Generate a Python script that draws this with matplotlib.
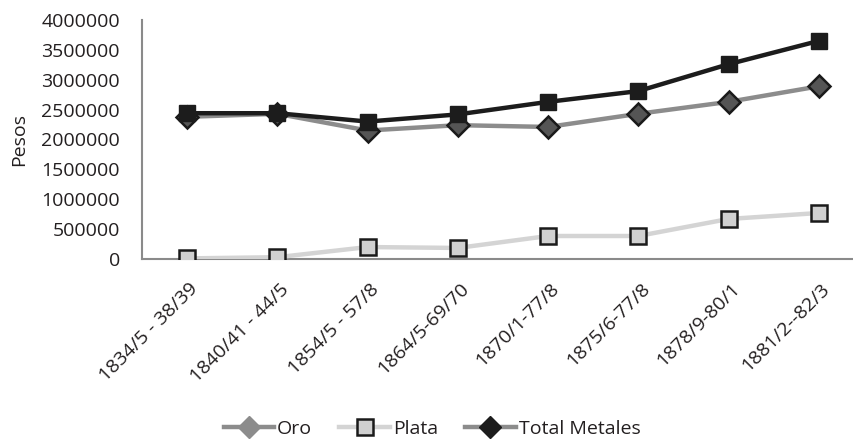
import matplotlib
matplotlib.use("Agg")
import matplotlib.pyplot as plt
from matplotlib.lines import Line2D
from matplotlib.transforms import ScaledTranslation

periodos = ["1834/5 - 38/39", "1840/41 - 44/5", "1854/5 - 57/8", "1864/5-69/70",
            "1870/1-77/8", "1875/6-77/8", "1878/9-80/1", "1881/2--82/3"]
oro = [2380000, 2430000, 2150000, 2240000, 2210000, 2430000, 2630000, 2890000]
plata = [10000, 30000, 200000, 185000, 385000, 385000, 670000, 770000]
total = [2440000, 2440000, 2300000, 2420000, 2630000, 2810000, 3260000, 3650000]

plt.rcParams["font.family"] = ["Open Sans", "DejaVu Sans"]
TXT = "#231f20"
FS = 14

fig = plt.figure(figsize=(8.54, 4.43), dpi=100)
ax = fig.add_axes([142 / 854, 1 - 259 / 443, 1 - 142 / 854, (259 - 20) / 443])

x = list(range(len(periodos)))
ax.plot(x, oro, color="#8c8c8c", lw=3.2, marker="D", ms=11,
        mfc="#555555", mec="#1a1a1a", mew=1.8, zorder=3)
ax.plot(x, plata, color="#d4d4d4", lw=3.2, marker="s", ms=11,
        mfc="#d0d0d0", mec="#1a1a1a", mew=1.8, zorder=3)
ax.plot(x, total, color="#1c1c1c", lw=3.2, marker="s", ms=12,
        mfc="#1c1c1c", mec="#1c1c1c", zorder=4)

ax.set_xlim(-0.5, 7.39)
ax.set_ylim(0, 4000000)
ax.set_yticks(range(0, 4000001, 500000))
ax.set_yticklabels([str(v) for v in range(0, 4000001, 500000)], fontsize=FS, color=TXT)
ax.set_xticks(x)
ax.set_xticklabels(periodos, rotation=45, ha="right", va="top", rotation_mode="anchor",
                   fontsize=FS, color=TXT)
ax.tick_params(length=0)
ax.tick_params(axis="y", pad=16)
ax.tick_params(axis="x", pad=0)
# push the rotated category labels down a bit below the axis
shift = ScaledTranslation(2 / 100, -21 / 100, fig.dpi_scale_trans)
for lab in ax.get_xticklabels():
    lab.set_transform(lab.get_transform() + shift)

for s in ["top", "right"]:
    ax.spines[s].set_visible(False)
for s in ["left", "bottom"]:
    ax.spines[s].set_color("#8a8a8a")
    ax.spines[s].set_linewidth(1.5)

ax.set_ylabel("Pesos", fontsize=FS, color=TXT, labelpad=9)

handles = [
    Line2D([], [], color="#8c8c8c", lw=3.2, marker="D", ms=11, mfc="#8c8c8c", mec="#8c8c8c"),
    Line2D([], [], color="#d4d4d4", lw=3.2, marker="s", ms=11, mfc="#d0d0d0", mec="#1a1a1a", mew=1.8),
    Line2D([], [], color="#8c8c8c", lw=3.2, marker="D", ms=11, mfc="#1c1c1c", mec="#1c1c1c"),
]
fig.legend(handles, ["Oro", "Plata", "Total Metales"], loc="center",
           bbox_to_anchor=(432 / 854, 1 - 429 / 443), ncol=3, frameon=False,
           fontsize=FS, handlelength=2.6, handletextpad=0.15, columnspacing=1.4,
           labelcolor=TXT)

fig.savefig("out.png", dpi=100)
